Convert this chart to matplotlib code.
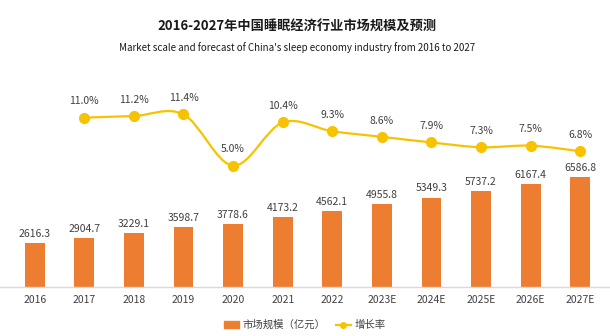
import numpy as np
import matplotlib
matplotlib.use("Agg")
import matplotlib.pyplot as plt
from matplotlib.path import Path
from matplotlib.patches import PathPatch, Patch
from matplotlib.lines import Line2D

plt.rcParams['font.family'] = ['Noto Sans CJK SC', 'DejaVu Sans']

years = ['2016', '2017', '2018', '2019', '2020', '2021', '2022',
         '2023E', '2024E', '2025E', '2026E', '2027E']
market = [2616.3, 2904.7, 3229.1, 3598.7, 3778.6, 4173.2, 4562.1,
          4955.8, 5349.3, 5737.2, 6167.4, 6586.8]
growth = [None, 11.0, 11.2, 11.4, 5.0, 10.4, 9.3, 8.6, 7.9, 7.3, 7.5, 6.8]

bar_c = '#ED7D31'
line_c = '#F7C300'
txt_c = '#404040'

fig = plt.figure(figsize=(6.10, 3.36), dpi=100)
ax = fig.add_axes([0, (336 - 287) / 336, 1, 227 / 336])
x = np.arange(len(years))
ax.bar(x, market, width=0.4, color=bar_c, zorder=2)
for xi, v in zip(x, market):
    ax.text(xi, v + 250, f'{v:.1f}', ha='center', va='bottom', fontsize=7.5, color=txt_c)
ax.set_xlim(-0.70, 11.6)
ax.set_ylim(0, 227 * 59.8)
ax.set_xticks(x)
ax.set_xticklabels(years, fontsize=7.5, color=txt_c)
ax.tick_params(axis='x', length=0, pad=6)
ax.set_yticks([])
for s in ['top', 'left', 'right']:
    ax.spines[s].set_visible(False)
ax.spines['bottom'].set_color('#D9D9D9')
ax.spines['bottom'].set_linewidth(1)

ax2 = ax.twinx()
ax2.set_ylim(-10.16, 18.2)
ax2.axis('off')
gx = [xi for xi, g in zip(x, growth) if g is not None]
gy = [g for g in growth if g is not None]

# smooth curve through the points (Catmull-Rom as cubic Bezier segments)
pts = np.column_stack([gx, gy]).astype(float)
verts = [tuple(pts[0])]
codes = [Path.MOVETO]
n = len(pts)
for i in range(n - 1):
    p0 = pts[i - 1] if i > 0 else pts[i]
    p1, p2 = pts[i], pts[i + 1]
    p3 = pts[i + 2] if i + 2 < n else pts[i + 1]
    c1 = p1 + (p2 - p0) / 6
    c2 = p2 - (p3 - p1) / 6
    verts += [tuple(c1), tuple(c2), tuple(p2)]
    codes += [Path.CURVE4] * 3
ax2.add_patch(PathPatch(Path(verts, codes), facecolor='none', edgecolor=line_c, lw=1.6, zorder=3))
ax2.plot(gx, gy, 'o', color=line_c, markersize=7, zorder=4)
for xi, g in zip(gx, gy):
    ax2.text(xi, g + 1.4, f'{g:.1f}%', ha='center', va='bottom', fontsize=7.5, color=txt_c)

fig.text(0.487, 1 - 27 / 336, '2016-2027年中国睡眠经济行业市场规模及预测', ha='center', va='center',
         fontsize=9.5, fontweight='bold', color='#1a1a1a')
fig.text(0.487, 1 - 48 / 336, "Market scale and forecast of China's sleep economy industry from 2016 to 2027",
         ha='center', va='center', fontsize=7.0, color='#1a1a1a')

handles = [Patch(color=bar_c, label='市场规模（亿元）'),
           Line2D([0], [0], color=line_c, marker='o', markersize=4, lw=1.6, label='增长率')]
fig.legend(handles=handles, loc='center', bbox_to_anchor=(0.5, 1 - 325 / 336), ncol=2,
           frameon=False, fontsize=7.5, handlelength=1.4, handleheight=0.6, handletextpad=0.4,
           columnspacing=1.0, labelcolor=txt_c)

fig.savefig('out.png', dpi=100)
